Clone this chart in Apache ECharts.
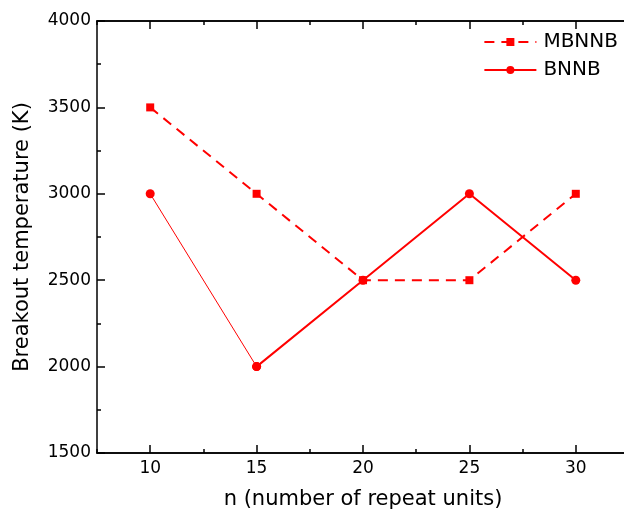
<!DOCTYPE html>
<html><head><meta charset="utf-8">
<script src="https://cdn.jsdelivr.net/npm/echarts@6/dist/echarts.min.js"></script>
<style>html,body{margin:0;padding:0;background:#fff}#c{width:624px;height:514px}</style>
</head><body><div id="c"></div>
<script>
var nValues = [10, 15, 20, 25, 30];
var mbnnb = [3500, 3000, 2500, 2500, 3000];
var bnnb = [3000, 2000, 2500, 3000, 2500];
var seriesNames = ['MBNNB', 'BNNB'];

function pairs(xs, ys){ return xs.map(function(x,i){ return [x, ys[i]]; }); }

var font = 'DejaVu Sans, Verdana, sans-serif';
var chart = echarts.init(document.getElementById('c'), null, {renderer:'canvas'});
var lineSty = {color:'#000', width:1.5};
function xAx(pos, major, showLabel){
  var ax = {
    type:'value', position:pos, min:7.5, max:32.5, interval:2.5,
    axisLine:{show:true, onZero:false, lineStyle:lineSty},
    axisTick:{show:true, inside:true, length:major?8:4, lineStyle:lineSty},
    axisLabel:{show:false},
    splitLine:{show:false}
  };
  if (major) {
    ax.axisTick.customValues = nValues;
  }
  if (showLabel) {
    ax.axisLabel = {show:true, fontFamily:font, fontSize:17, color:'#000', margin:7, customValues:nValues};
    ax.name = 'n (number of repeat units)';
    ax.nameLocation = 'middle';
    ax.nameGap = 36;
    ax.nameTextStyle = {fontFamily:font, fontSize:21, color:'#000', verticalAlign:'top'};
  }
  return ax;
}
chart.setOption({
  animation:false,
  grid:{left:97, top:21, right:-5, bottom:61, containLabel:false, outerBoundsMode:'none'},
  legend:{
    data:seriesNames, orient:'vertical', right:6, top:32, itemGap:8, padding:0,
    itemWidth:52, itemHeight:10,
    textStyle:{fontFamily:font, fontSize:20, color:'#000', lineHeight:20, padding:[0,0,0,2]}
  },
  xAxis:[ xAx('bottom', true, true), xAx('bottom', false, false), xAx('top', true, false), xAx('top', false, false) ],
  yAxis:[{
    type:'value', min:1500, max:4000, interval:500,
    name:'Breakout temperature (K)', nameLocation:'middle', nameGap:64,
    nameTextStyle:{fontFamily:font, fontSize:21, color:'#000'},
    axisLine:{show:true, onZero:false, lineStyle:lineSty},
    axisTick:{show:true, inside:true, length:8, lineStyle:lineSty},
    minorTick:{show:true, splitNumber:2, length:4, lineStyle:lineSty},
    axisLabel:{fontFamily:font, fontSize:17, color:'#000', margin:6, formatter:function(v){return String(v);}},
    splitLine:{show:false}
  }],
  series:[
    {name:seriesNames[0], type:'line', data:pairs(nValues, mbnnb), symbol:'rect', symbolSize:8,
      itemStyle:{color:'#ff0000'}, lineStyle:{color:'#ff0000', width:2, type:[10,7]}},
    {name:seriesNames[1], type:'line', data:pairs(nValues.slice(1), bnnb.slice(1)), symbol:'circle', symbolSize:9,
      itemStyle:{color:'#ff0000'}, lineStyle:{color:'#ff0000', width:2}, z:3},
    {name:seriesNames[1], type:'line', data:pairs(nValues.slice(0,2), bnnb.slice(0,2)), symbol:'circle', symbolSize:9,
      itemStyle:{color:'#ff0000'}, lineStyle:{color:'#ff0000', width:1}, z:2}
  ]
});
</script></body></html>
